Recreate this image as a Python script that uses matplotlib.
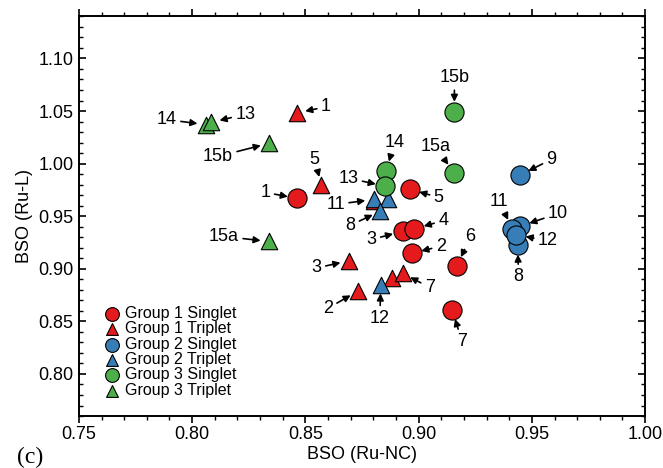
import matplotlib.pyplot as plt
from matplotlib.ticker import MultipleLocator

plt.rcParams['font.family'] = ['Liberation Sans', 'DejaVu Sans']

# group 1 (red)
g1s_x = [0.8465, 0.8961, 0.8929, 0.8981, 0.8970, 0.9168, 0.9148]
g1s_y = [0.9669, 0.9755, 0.9355, 0.9381, 0.9148, 0.9027, 0.8611]
g1s_lab = ['1', '5', '3', '4', '2', '6', '7']
g1t_x = [0.8463, 0.8571, 0.8691, 0.8732, 0.8882, 0.8930, 0.8801]
g1t_y = [1.0483, 0.9796, 0.9075, 0.8787, 0.8908, 0.8956, 0.9645]
g1t_lab = ['1', '5', '3', '2', '', '7', '']

# group 2 (blue)
g2s_x = [0.9446, 0.9448, 0.9437, 0.9414, 0.9430]
g2s_y = [0.9889, 0.9403, 0.9228, 0.9381, 0.9324]
g2s_lab = ['9', '10', '8', '11', '12']
g2t_x = [0.8801, 0.8867, 0.8831, 0.8833]
g2t_y = [0.9659, 0.9659, 0.9547, 0.8845]
g2t_lab = ['11', '', '8', '12']

# group 3 (green)
g3s_x = [0.8857, 0.8853, 0.9157, 0.9158]
g3s_y = [0.9930, 0.9786, 0.9914, 1.0495]
g3s_lab = ['14', '13', '15a', '15b']
g3t_x = [0.8060, 0.8085, 0.8339, 0.8339]
g3t_y = [1.0371, 1.0393, 1.0192, 0.9260]
g3t_lab = ['14', '13', '15b', '15a']

# label offsets in pixels
g1s_off = [(-32, 6), (29, -8), (-31, -8), (29, 8), (29, 7), (14, 29), (10, -32)]
g1t_off = [(29, 6), (-7, 26), (-32, -7), (-30, -17), None, (27, -14), None]
g2s_off = [(32, 16), (38, 13), (1, -32), (-13, 27), (32, -6)]
g2t_off = [(-38, -5), None, (-30, -14), (-1, -33)]
g3s_off = [(8, 28), (-37, 8), (-19, 26), (0, 34)]
g3t_off = [(-39, 5), (34, 8), (-51, -13), (-45, 5)]

red = '#e41a1c'
blue = '#377eb8'
green = '#4daf4a'

fig = plt.figure(figsize=(6.63, 4.68), dpi=100)
ax = fig.add_axes([0.119, 0.111, 0.854, 0.854])

series = [
    (g1s_x, g1s_y, g1s_lab, g1s_off, red, 'o', 'Group 1 Singlet'),
    (g1t_x, g1t_y, g1t_lab, g1t_off, red, '^', 'Group 1 Triplet'),
    (g2s_x, g2s_y, g2s_lab, g2s_off, blue, 'o', 'Group 2 Singlet'),
    (g2t_x, g2t_y, g2t_lab, g2t_off, blue, '^', 'Group 2 Triplet'),
    (g3s_x, g3s_y, g3s_lab, g3s_off, green, 'o', 'Group 3 Singlet'),
    (g3t_x, g3t_y, g3t_lab, g3t_off, green, '^', 'Group 3 Triplet'),
]

for xs, ys, labs, offs, col, mk, name in series:
    size = 190 if mk == 'o' else 140
    gap = 7 if mk == 'o' else 6
    ax.scatter(xs, ys, s=size, marker=mk, c=col, edgecolors='black',
               linewidths=0.8, label=name, zorder=3)
    for x, y, lab, off in zip(xs, ys, labs, offs):
        if off is None:
            continue
        ax.annotate(lab, xy=(x, y), xytext=off, textcoords='offset pixels',
                    ha='center', va='center', fontsize=13,
                    arrowprops=dict(arrowstyle='-|>', color='black', lw=1.2,
                                    mutation_scale=10, shrinkA=1, shrinkB=gap),
                    zorder=4)

ax.set_xlim(0.75, 1.00)
ax.set_ylim(0.76, 1.14)
ax.xaxis.set_major_locator(MultipleLocator(0.05))
ax.xaxis.set_minor_locator(MultipleLocator(0.01))
ax.yaxis.set_major_locator(MultipleLocator(0.05))
ax.yaxis.set_minor_locator(MultipleLocator(0.01))
ax.xaxis.set_major_formatter(plt.FormatStrFormatter('%.2f'))
ax.yaxis.set_major_formatter(plt.FormatStrFormatter('%.2f'))
ax.tick_params(which='both', direction='in', top=True, right=True, labelsize=13)
ax.tick_params(axis='x', which='both', bottom=True, direction='out', pad=2)
ax.tick_params(axis='y', pad=4)
ax.tick_params(which='major', length=5, width=1.2)
ax.tick_params(which='minor', length=3, width=1.0)
for sp in ax.spines.values():
    sp.set_linewidth(1.4)

ax.set_xlabel('BSO (Ru-NC)', fontsize=13, labelpad=2)
ax.set_ylabel('BSO (Ru-L)', fontsize=13, labelpad=4)

ax.legend(loc='upper left', bbox_to_anchor=(0.042, 0.275), frameon=False,
          fontsize=11.5, markerscale=0.72, labelspacing=0.02,
          handletextpad=0.2, handlelength=1.2, borderaxespad=0, borderpad=0)

fig.text(0.025, 0.01, '(c)', fontsize=17, family='Liberation Serif')

fig.savefig('out.png', dpi=100)
